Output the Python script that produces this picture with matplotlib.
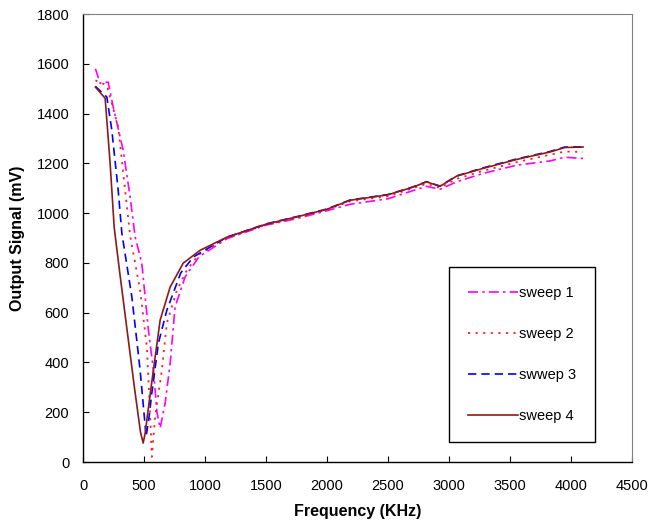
import matplotlib
matplotlib.use("Agg")
import matplotlib.pyplot as plt

plt.rcParams['font.family'] = ['Liberation Sans', 'DejaVu Sans']

# Frequency (KHz) and output signal (mV), per sweep
f1 = [100, 139, 205, 246, 328, 385, 426, 481, 535, 576, 605, 631, 672, 713, 754, 836,
      950, 1180, 1500, 1750, 2000, 2189, 2500, 2700, 2817, 2926, 3063, 3279, 3555, 3828, 3950, 4100]
v1 = [1581, 1522, 1527, 1427, 1253, 1065, 905, 798, 530, 369, 200, 136, 236, 396, 624, 744,
      825, 898, 952, 978, 1010, 1036, 1058, 1090, 1108, 1096, 1126, 1160, 1193, 1210, 1225, 1220]

f2 = [100, 194, 287, 344, 385, 467, 522, 548, 563, 590, 645, 686, 768, 850,
      950, 1180, 1500, 1750, 2000, 2189, 2500, 2700, 2817, 2926, 3063, 3279, 3555, 3828, 3950, 4100]
v2 = [1534, 1514, 1347, 1092, 910, 690, 463, 200, 21, 182, 369, 558, 690, 771,
      835, 900, 954, 982, 1014, 1048, 1068, 1100, 1118, 1102, 1138, 1170, 1205, 1235, 1248, 1246]

f3 = [100, 194, 235, 287, 317, 399, 467, 500, 516, 540, 563, 617, 686, 800,
      904, 1180, 1500, 1750, 2000, 2189, 2500, 2700, 2817, 2926, 3063, 3279, 3555, 3828, 3950, 4100]
v3 = [1510, 1467, 1333, 1092, 920, 664, 369, 190, 102, 180, 277, 478, 610, 760,
      824, 904, 957, 986, 1017, 1053, 1075, 1105, 1127, 1109, 1150, 1182, 1218, 1248, 1266, 1267]

f4 = [100, 180, 221, 254, 300, 360, 420, 470, 492, 510, 525, 565, 631, 713, 820,
      959, 1180, 1500, 1750, 2000, 2189, 2500, 2700, 2817, 2926, 3063, 3279, 3555, 3828, 3950, 4100]
v4 = [1507, 1462, 1200, 944, 760, 530, 300, 120, 76, 120, 181, 330, 570, 703, 799,
      851, 904, 956, 985, 1016, 1052, 1074, 1104, 1126, 1108, 1149, 1180, 1216, 1246, 1264, 1266]

labels = ['sweep 1', 'sweep 2', 'swwep 3', 'sweep 4']

fig = plt.figure(figsize=(6.5, 5.25), dpi=100)
ax = fig.add_axes([0.128, 0.12, 0.844, 0.853])

ax.plot(f1, v1, color='#ff00ff', lw=1.2, ls=(0, (6, 2.5, 1.5, 2.5)), label=labels[0])
ax.plot(f2, v2, color='#ff2020', lw=1.3, ls=(0, (1.2, 3)), label=labels[1])
ax.plot(f3, v3, color='#0000ff', lw=1.2, ls=(0, (5, 3)), label=labels[2])
ax.plot(f4, v4, color='#8b1a1a', lw=1.2, ls='-', label=labels[3])

ax.set_xlim(0, 4500)
ax.set_ylim(0, 1800)
ax.set_xticks(range(0, 4501, 500))
ax.set_yticks(range(0, 1801, 200))
ax.tick_params(direction='in', length=4, labelsize=10.5)
ax.tick_params(axis='x', pad=12)
ax.tick_params(axis='y', pad=10)

for s in ['left', 'bottom']:
    ax.spines[s].set_color('black')
    ax.spines[s].set_linewidth(1.0)
for s in ['top', 'right']:
    ax.spines[s].set_color('#808080')
    ax.spines[s].set_linewidth(0.8)

ax.set_xlabel('Frequency (KHz)', fontsize=11.5, fontweight='bold', labelpad=8)
ax.set_ylabel('Output Signal (mV)', fontsize=11.5, fontweight='bold', labelpad=8)

leg = ax.legend(loc='lower right', bbox_to_anchor=(0.933, 0.045), fontsize=10.5,
                labelspacing=1.85, handlelength=3.4, handletextpad=0.1,
                borderpad=1.3, borderaxespad=0, fancybox=False, framealpha=1,
                edgecolor='black')
leg.get_frame().set_linewidth(1.0)

fig.savefig('out.png', dpi=100)
